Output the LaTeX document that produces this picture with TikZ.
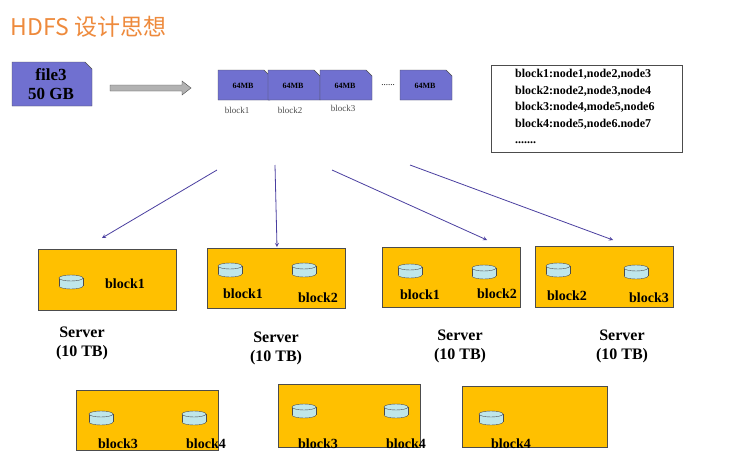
\documentclass[tikz,border=0pt]{standalone}
\usepackage{fontspec}
\setmainfont{Liberation Serif}
\newfontfamily\cjk{Noto Sans CJK SC}
\definecolor{orng}{HTML}{FFC000}
\definecolor{ttl}{HTML}{EE8A3C}
\definecolor{purp}{HTML}{7070D0}
\definecolor{arr}{HTML}{4A3FA0}
\definecolor{cyl}{HTML}{BFE6EA}
\tikzset{
  srv/.style={draw=black!70, fill=orng, line width=0.5pt},
  blk/.style={font=\bfseries\fontsize{14}{15}\selectfont},
  lbl/.style={font=\bfseries\fontsize{16}{19}\selectfont, align=center},
  con/.style={draw=arr, line width=0.8pt, -stealth},
  mb/.style={draw=black!70, fill=purp},
  blkcap/.style={font=\fontsize{9}{10}\selectfont, text=black!70}
}
\newcommand{\mycyl}[2]{%
  \fill[cyl] (#1-12,#2-4) rectangle (#1+12,#2+4);
  \fill[cyl] (#1,#2+4) ellipse[x radius=12,y radius=3];
  \draw[black!70,line width=0.4pt] (#1-12,#2-4) -- (#1-12,#2+4) (#1+12,#2-4) -- (#1+12,#2+4);
  \draw[black!70,line width=0.4pt] (#1-12,#2+4) arc[start angle=180,end angle=0,x radius=12,y radius=3];
  \draw[black!70,line width=0.4pt,fill=cyl] (#1,#2-4) ellipse[x radius=12,y radius=3];}
\begin{document}
\begin{tikzpicture}[x=1pt,y=-1pt]
\useasboundingbox[fill=white] (0,0) rectangle (734,461);
\node[anchor=west,text=ttl,font=\cjk\fontsize{23}{25}\selectfont] (title) at (7,27) {HDFS 设计思想};
% file
\draw[fill=purp,draw=black!70] (12,62) -- (85,62) -- (92,69) -- (92,106) -- (12,106) -- cycle;
\node[font=\bfseries\fontsize{17}{19}\selectfont,align=center] (file) at (51,84) {file3\\50 GB};
\draw[draw=black!70,fill=gray!60] (110,85) -- (182,85) -- (182,81) -- (191,88) -- (182,95) -- (182,91) -- (110,91) -- cycle;
% blocks
\foreach \x/\n in {218/b1,268/b2,320/b3,400/b4}{
  \draw[mb] (\x,70) -- (\x+46,70) -- (\x+52,76) -- (\x+52,100) -- (\x,100) -- cycle;
  \node[font=\bfseries\fontsize{8}{9}\selectfont] (\n) at (\x+25,86) {64MB};}
\node[font=\fontsize{9}{9}\selectfont] (dots) at (388,85) {......};
\node[blkcap] (c1) at (237,110) {block1};
\node[blkcap] (c2) at (290,110) {block2};
\node[blkcap] (c3) at (343,108) {block3};
% map box
\node[draw=black!70,line width=0.5pt,minimum width=191,minimum height=87,anchor=north west] (map) at (491,65) {};
\node[anchor=north west,align=left,inner sep=0pt,font=\bfseries\fontsize{12}{16.5}\selectfont] (maptext) at (515,69) {block1:node1,node2,node3\\block2:node2,node3,node4\\block3:node4,mode5,node6\\block4:node5,node6.node7\\.......};
% servers top
\node[srv,minimum width=138,minimum height=61,anchor=north west] (s1) at (38,249) {};
\node[srv,minimum width=138,minimum height=60,anchor=north west] (s2) at (207,248) {};
\node[srv,minimum width=138,minimum height=60,anchor=north west] (s3) at (382,247) {};
\node[srv,minimum width=138,minimum height=61,anchor=north west] (s4) at (535,246) {};
\mycyl{71}{282}
\node[blk] (t1a) at (125,284) {block1};
\mycyl{230}{270}\mycyl{304}{270}
\node[blk] (t2a) at (243,294) {block1};
\node[blk] (t2b) at (318,298) {block2};
\mycyl{410}{271}\mycyl{484}{272}
\node[blk] (t3a) at (420,295) {block1};
\node[blk] (t3b) at (497,294) {block2};
\mycyl{558}{270}\mycyl{636}{272}
\node[blk] (t4a) at (567,296) {block2};
\node[blk] (t4b) at (649,298) {block3};
% arrows
\coordinate (a1) at (217,170); \coordinate (a2) at (275,165);
\coordinate (a3) at (332,170); \coordinate (a4) at (410,165);
\coordinate (e1) at (102,238); \coordinate (e2) at (277,247);
\coordinate (e3) at (487,240); \coordinate (e4) at (613,240);
\draw[con] (a1) -- (e1);
\draw[con] (a2) -- (e2);
\draw[con] (a3) -- (e3);
\draw[con] (a4) -- (e4);
% server labels
\node[lbl] (l1) at (82,343) {Server\\(10 TB)};
\node[lbl] (l2) at (276,348) {Server\\(10 TB)};
\node[lbl] (l3) at (460,346) {Server\\(10 TB)};
\node[lbl] (l4) at (622,346) {Server\\(10 TB)};
% servers bottom
\node[srv,minimum width=142,minimum height=60,anchor=north west] (s5) at (76,390) {};
\node[srv,minimum width=142,minimum height=63,anchor=north west] (s6) at (278,384) {};
\node[srv,minimum width=145,minimum height=61,anchor=north west] (s7) at (462,386) {};
\mycyl{101}{418}\mycyl{194}{418}
\node[blk] (u1a) at (118,444) {block3};
\node[blk] (u1b) at (206,444) {block4};
\mycyl{304}{411}\mycyl{396}{411}
\node[blk] (u2a) at (318,444) {block3};
\node[blk] (u2b) at (406,444) {block4};
\mycyl{491}{418}
\node[blk] (u3a) at (511,444) {block4};
\end{tikzpicture}
\end{document}
